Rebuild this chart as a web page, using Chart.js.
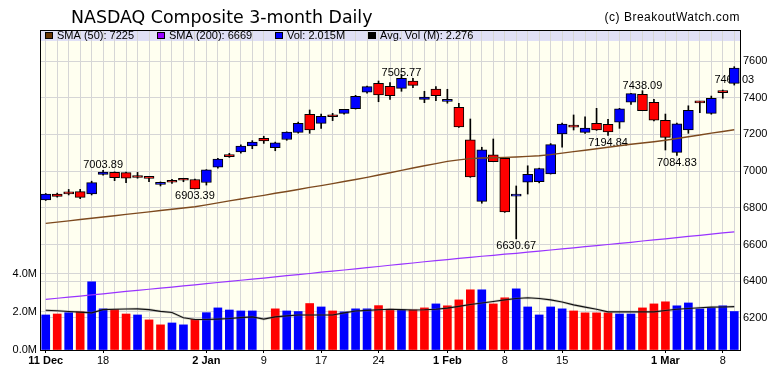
<!DOCTYPE html>
<html>
<head>
<meta charset="utf-8">
<title>NASDAQ Composite 3-month Daily</title>
<script src="https://cdn.jsdelivr.net/npm/chart.js@4.4.0/dist/chart.umd.min.js"></script>
<style>
    html, body { margin: 0; padding: 0; background: #ffffff; }
    canvas { display: block; }
</style>
</head>
<body>
<canvas id="nasdaqChart" width="780" height="376"></canvas>
<script>
// Trading days shown on the chart
const tradingDays = [
    '2017-12-11', '2017-12-12', '2017-12-13', '2017-12-14', '2017-12-15', '2017-12-18', '2017-12-19', '2017-12-20', '2017-12-21', '2017-12-22',
    '2017-12-26', '2017-12-27', '2017-12-28', '2017-12-29', '2018-01-02', '2018-01-03', '2018-01-04', '2018-01-05', '2018-01-08', '2018-01-09',
    '2018-01-10', '2018-01-11', '2018-01-12', '2018-01-16', '2018-01-17', '2018-01-18', '2018-01-19', '2018-01-22', '2018-01-23', '2018-01-24',
    '2018-01-25', '2018-01-26', '2018-01-29', '2018-01-30', '2018-01-31', '2018-02-01', '2018-02-02', '2018-02-05', '2018-02-06', '2018-02-07',
    '2018-02-08', '2018-02-09', '2018-02-12', '2018-02-13', '2018-02-14', '2018-02-15', '2018-02-16', '2018-02-20', '2018-02-21', '2018-02-22',
    '2018-02-23', '2018-02-26', '2018-02-27', '2018-02-28', '2018-03-01', '2018-03-02', '2018-03-05', '2018-03-06', '2018-03-07', '2018-03-08',
    '2018-03-09'
];

const openPrices = [
    6843, 6875, 6880, 6888, 6876, 6982, 6993, 6992, 6968, 6962,
    6928, 6943, 6954, 6954, 6938, 7021, 7090, 7105, 7137, 7178,
    7128, 7172, 7211, 7310, 7260, 7300, 7315, 7340, 7430, 7478,
    7462, 7451, 7491, 7391, 7447, 7380, 7348, 7170, 6835, 7088,
    7070, 6864, 6940, 6942, 6984, 7202, 7246, 7211, 7260, 7255,
    7266, 7375, 7418, 7375, 7277, 7102, 7225, 7376, 7315, 7431,
    7478
];
const highPrices = [
    6878, 6880, 6900, 6901, 6945, 7003.89, 6996, 6995, 6993, 6964,
    6941, 6955, 6961, 6956, 7008, 7070, 7097, 7143, 7166, 7190,
    7158, 7214, 7267, 7333, 7311, 7315, 7337, 7413, 7463, 7491,
    7482, 7525, 7506, 7435, 7460, 7446, 7369, 7284, 7130, 7175,
    7072, 6919, 7029, 7016, 7150, 7262, 7306, 7296, 7342, 7282,
    7342, 7424, 7438.09, 7391, 7311, 7262, 7356, 7380, 7409, 7442,
    7569
];
const lowPrices = [
    6840, 6858, 6870, 6850, 6870, 6978, 6948, 6937, 6961, 6942,
    6919, 6933, 6942, 6903.39, 6924, 7016, 7075, 7098, 7122, 7151,
    7111, 7168, 7207, 7206, 7233, 7275, 7310, 7338, 7425, 7378,
    7391, 7435, 7455, 7373, 7384, 7370, 7238, 6966, 6825, 7051,
    6775, 6630.67, 6875, 6936, 6984, 7130, 7224, 7206, 7222, 7194.84,
    7233, 7364, 7329, 7273, 7115, 7084.83, 7206, 7318, 7310, 7397,
    7469.03
];
const closePrices = [
    6875, 6862, 6876, 6857, 6937, 6995, 6964, 6961, 6965, 6960,
    6936, 6939, 6950, 6903.39, 7007, 7066, 7078, 7137, 7158, 7164,
    7154, 7212, 7261, 7224, 7298, 7296, 7336, 7408, 7460, 7415,
    7411, 7505.77, 7467, 7404, 7411, 7386, 7241, 6968, 7116, 7052,
    6777, 6874, 6982, 7014, 7144, 7256, 7240, 7234, 7224, 7213,
    7340, 7422, 7330, 7277, 7184, 7258, 7331, 7372, 7397, 7428,
    7561
];
// close of the day before the first candle, used for the first volume bar colour
const prevClose = 6840;

// Volume in millions (no volume printed for 9 Jan)
const volumeM = [
    1.84, 1.89, 1.96, 2.00, 3.58, 2.16, 2.12, 1.89, 1.84, 1.58,
    1.32, 1.42, 1.32, 1.61, 1.96, 2.21, 2.10, 2.05, 2.05, null,
    2.16, 2.05, 2.02, 2.44, 2.26, 2.05, 2.00, 2.16, 2.16, 2.33,
    2.14, 2.10, 2.10, 2.21, 2.42, 2.32, 2.63, 3.16, 3.16, 2.42,
    2.74, 3.21, 2.26, 1.84, 2.26, 2.16, 2.05, 1.95, 1.95, 1.95,
    1.89, 1.89, 2.21, 2.42, 2.53, 2.32, 2.47, 2.16, 2.21, 2.32,
    2.02
];
const avgVolumeM = [
    2.09, 2.06, 2.02, 1.99, 1.95, 2.12, 2.14, 2.15, 2.16, 2.12,
    2.03, 1.97, 1.69, 1.60, 1.60, 1.62, 1.65, 1.70, 1.74, 1.62,
    1.74, 1.79, 1.84, 1.84, 1.84, 1.84, 1.95, 2.05, 2.08, 2.11,
    2.14, 2.12, 2.10, 2.11, 2.14, 2.20, 2.29, 2.39, 2.47, 2.55,
    2.63, 2.70, 2.74, 2.70, 2.63, 2.52, 2.37, 2.25, 2.14, 2.00,
    2.00, 2.00, 2.00, 2.00, 2.07, 2.14, 2.18, 2.22, 2.25, 2.26,
    2.276
];
const sma50 = [
    6715, 6722, 6729, 6736, 6743, 6750, 6757, 6764, 6771, 6778,
    6785, 6792, 6799, 6806, 6816, 6827, 6838, 6848, 6858, 6868,
    6879, 6889, 6900, 6911, 6921, 6932, 6943, 6954, 6966, 6979,
    6991, 7004, 7017, 7029, 7041, 7053, 7061, 7068, 7071, 7073,
    7075, 7077, 7080, 7084, 7090, 7098, 7106, 7114, 7122, 7130,
    7138, 7146, 7153, 7160, 7168, 7178, 7187, 7197, 7207, 7216,
    7225
];
const sma200 = [
    6301, 6307, 6313, 6319, 6325, 6331, 6338, 6344, 6350, 6356,
    6362, 6368, 6374, 6380, 6387, 6393, 6399, 6405, 6411, 6417,
    6424, 6430, 6436, 6442, 6449, 6455, 6461, 6467, 6474, 6480,
    6487, 6493, 6499, 6506, 6512, 6518, 6524, 6530, 6536, 6541,
    6547, 6552, 6558, 6564, 6570, 6576, 6582, 6588, 6594, 6600,
    6606, 6612, 6619, 6625, 6631, 6637, 6644, 6650, 6656, 6663,
    6669
];

// Date axis labels
const tickDates = ['2017-12-11', '2017-12-18', '2018-01-02', '2018-01-09', '2018-01-17', '2018-01-24', '2018-02-01', '2018-02-08', '2018-02-15', '2018-03-01', '2018-03-08'];
const tickTexts = ['11 Dec', '18', '2 Jan', '9', '17', '24', '1 Feb', '8', '15', '1 Mar', '8'];
const boldTicks = ['11 Dec', '2 Jan', '1 Feb', '1 Mar'];
const priceTicks = [6200, 6400, 6600, 6800, 7000, 7200, 7400, 7600];
const volumeTicks = [0, 2, 4];

// Swing point labels
const markDates = ['2017-12-18', '2017-12-29', '2018-01-26', '2018-02-09', '2018-02-22', '2018-02-27', '2018-03-02', '2018-03-09'];
const markValues = [7003.89, 6903.39, 7505.77, 6630.67, 7194.84, 7438.09, 7084.83, 7469.03];
const markAbove = [true, false, true, false, false, true, false, true];

// Legend band
const legendNames = ['SMA (50): 7225', 'SMA (200): 6669', 'Vol: 2.015M', 'Avg. Vol (M): 2.276'];
const legendColors = ['#663300', '#9900ff', '#0000ff', '#000000'];

const sansFont = '"Liberation Sans", Arial, sans-serif';
const upColor = '#0000ff';
const downColor = '#ff0000';
const gridColor = '#d6d6d6';

const bodyData = tradingDays.map((d, i) => [openPrices[i], closePrices[i]]);
const wickData = tradingDays.map((d, i) => [lowPrices[i], highPrices[i]]);
const bodyColors = tradingDays.map((d, i) => closePrices[i] >= openPrices[i] ? upColor : downColor);
const volumeColors = tradingDays.map((d, i) => closePrices[i] >= (i ? closePrices[i - 1] : prevClose) ? upColor : downColor);

function tickTextFor(index) {
    const k = tickDates.indexOf(tradingDays[index]);
    return k === -1 ? '' : tickTexts[k];
}

// Background, legend band, swing labels, title and frame
const chartDecor = {
    id: 'chartDecor',
    beforeDraw(chart) {
        const { ctx, chartArea: a } = chart;
        ctx.save();
        ctx.fillStyle = '#fffff0';
        ctx.fillRect(a.left, a.top, a.right - a.left, a.bottom - a.top);
        ctx.fillStyle = '#e0e0f6';
        ctx.fillRect(a.left, a.top, a.right - a.left, 11);
        ctx.restore();
    },
    beforeDatasetsDraw(chart) {
        const { ctx } = chart;
        const xScale = chart.scales.x;
        const yScale = chart.scales.y;
        ctx.save();
        ctx.font = '11px ' + sansFont;
        ctx.fillStyle = '#000';
        ctx.textAlign = 'center';
        ctx.textBaseline = 'alphabetic';
        markDates.forEach((d, k) => {
            const px = xScale.getPixelForValue(tradingDays.indexOf(d));
            const py = yScale.getPixelForValue(markValues[k]);
            ctx.fillText(markValues[k].toFixed(2), px, markAbove[k] ? py - 2 : py + 10.5);
        });
        ctx.restore();
    },
    afterDraw(chart) {
        const { ctx, chartArea: a } = chart;
        ctx.save();
        ctx.fillStyle = '#000';
        ctx.textBaseline = 'alphabetic';
        ctx.textAlign = 'left';
        ctx.font = '17.4px "DejaVu Sans", sans-serif';
        ctx.fillText('NASDAQ Composite 3-month Daily', 71, 22.5);

        ctx.textAlign = 'right';
        ctx.font = '12px ' + sansFont;
        ctx.letterSpacing = '0.5px';
        ctx.fillText('(c) BreakoutWatch.com', a.right, 21);
        ctx.letterSpacing = '0px';

        // legend entries
        const boxX = [45, 157, 275, 368];
        ctx.textAlign = 'left';
        ctx.font = '11px ' + sansFont;
        ctx.lineWidth = 1;
        ctx.strokeStyle = '#000';
        legendNames.forEach((name, k) => {
            ctx.fillStyle = legendColors[k];
            ctx.fillRect(boxX[k], a.top + 2, 8, 7);
            ctx.strokeRect(boxX[k] + 0.5, a.top + 2.5, 7, 6);
            ctx.fillStyle = '#000';
            ctx.fillText(name, boxX[k] + 12, a.top + 9);
        });

        ctx.strokeStyle = '#000';
        ctx.lineWidth = 1;
        ctx.strokeRect(a.left + 0.5, a.top + 0.5, a.right - a.left, a.bottom - a.top);
        ctx.restore();
    }
};

const nasdaqChart = new Chart(document.getElementById('nasdaqChart'), {
    type: 'bar',
    data: {
        labels: tradingDays,
        datasets: [
            {
                type: 'line',
                label: 'SMA (50)',
                data: sma50,
                yAxisID: 'y',
                borderColor: '#7d4a1e',
                borderWidth: 1.4,
                pointRadius: 0,
                tension: 0,
                order: 0
            },
            {
                type: 'line',
                label: 'SMA (200)',
                data: sma200,
                yAxisID: 'y',
                borderColor: '#9933ff',
                borderWidth: 1.2,
                pointRadius: 0,
                tension: 0,
                order: 0
            },
            {
                type: 'line',
                label: 'Avg. Vol',
                data: avgVolumeM,
                yAxisID: 'yVol',
                borderColor: '#111111',
                borderWidth: 1.1,
                pointRadius: 0,
                tension: 0,
                order: 0
            },
            {
                type: 'line',
                label: 'Avg. Vol shadow',
                data: avgVolumeM,
                yAxisID: 'yVol',
                borderColor: 'rgba(120, 120, 120, 0.3)',
                borderWidth: 2.6,
                pointRadius: 0,
                tension: 0,
                order: 1
            },
            {
                label: 'Body',
                data: bodyData,
                yAxisID: 'y',
                backgroundColor: bodyColors,
                borderColor: '#000',
                borderWidth: 1,
                borderSkipped: false,
                barThickness: 10,
                minBarLength: 2,
                grouped: false,
                order: 2
            },
            {
                label: 'Wick',
                data: wickData,
                yAxisID: 'y',
                backgroundColor: '#000',
                barThickness: 1,
                grouped: false,
                order: 3
            },
            {
                label: 'Vol',
                data: volumeM,
                yAxisID: 'yVol',
                backgroundColor: volumeColors,
                barThickness: 8,
                grouped: false,
                order: 4
            }
        ]
    },
    options: {
        responsive: false,
        animation: false,
        devicePixelRatio: 1,
        layout: { padding: { top: 30, left: 0, right: 0, bottom: 0 } },
        plugins: {
            legend: { display: false },
            title: { display: false },
            tooltip: { enabled: false }
        },
        scales: {
            x: {
                offset: true,
                border: { display: false },
                grid: {
                    offset: false,
                    color: gridColor,
                    lineWidth: 1,
                    drawTicks: true,
                    tickLength: 3,
                    tickColor: (c) => tickTextFor(c.index) ? '#000' : 'rgba(0,0,0,0)'
                },
                ticks: {
                    autoSkip: false,
                    maxRotation: 0,
                    minRotation: 0,
                    padding: 1,
                    color: '#000',
                    font: (c) => ({
                        family: sansFont,
                        size: 11,
                        weight: boldTicks.includes(tickTextFor(c.index)) ? 'bold' : 'normal'
                    }),
                    callback: (value, index) => tickTextFor(index)
                },
                afterFit: (scale) => { scale.height = 26; }
            },
            y: {
                position: 'right',
                min: 6025,
                max: 7769,
                border: { display: false },
                grid: { color: gridColor, drawTicks: false },
                ticks: {
                    padding: 3,
                    color: '#000',
                    font: { family: sansFont, size: 11 },
                    callback: (value) => String(value)
                },
                afterBuildTicks: (scale) => { scale.ticks = priceTicks.map(v => ({ value: v })); },
                afterFit: (scale) => { scale.width = 40; }
            },
            yVol: {
                position: 'left',
                min: 0,
                max: 16.8,
                border: { display: false },
                grid: { color: gridColor, drawTicks: false },
                ticks: {
                    padding: 3,
                    color: '#000',
                    font: { family: sansFont, size: 11 },
                    callback: (value) => value.toFixed(1) + 'M'
                },
                afterBuildTicks: (scale) => { scale.ticks = volumeTicks.map(v => ({ value: v })); },
                afterFit: (scale) => { scale.width = 40; }
            }
        }
    },
    plugins: [chartDecor]
});
</script>
</body>
</html>
